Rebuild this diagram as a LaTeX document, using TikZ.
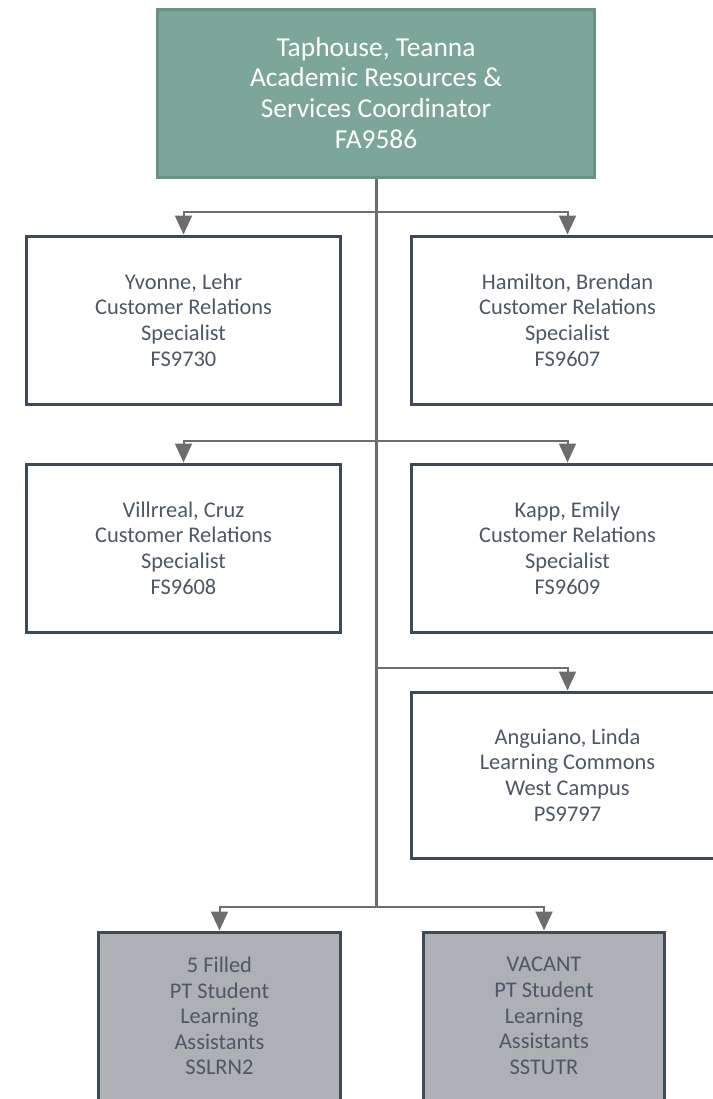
\documentclass[tikz,border=0pt]{standalone}
\usepackage{fontspec}
\setmainfont{Carlito}
\usetikzlibrary{arrows.meta}
\usetikzlibrary{positioning}

\definecolor{headfill}{HTML}{7BA699}
\definecolor{headline}{HTML}{6A9185}
\definecolor{boxline}{HTML}{3E4A57}
\definecolor{boxtext}{HTML}{4D5866}
\definecolor{linkgray}{HTML}{6D6D6D}
\definecolor{studentfill}{HTML}{ADB0B5}

\begin{document}
\begin{tikzpicture}[x=1bp,y=-1bp,
  headbox/.style={rectangle,draw=headline,fill=headfill,line width=3bp,minimum width=436bp,minimum height=168bp,align=center,text=white,font=\fontsize{27.5}{31}\selectfont},
  staffbox/.style={rectangle,draw=boxline,fill=white,line width=3bp,minimum width=313bp,minimum height=168bp,align=center,text=boxtext,font=\fontsize{22.5}{25.7}\selectfont},
  studentbox/.style={staffbox,fill=studentfill,minimum width=241bp},
  trunk/.style={draw=linkgray,line width=3bp},
  branch/.style={draw=linkgray,line width=2bp,-{Triangle[width=17bp,length=19bp]}}]
\useasboundingbox (0,0) rectangle (713,1099);

\node[headbox] (head) at (376,93) {Taphouse, Teanna\\Academic Resources \&\\Services Coordinator\\FA9586};

\node[staffbox] (yvonne) at (183.5,320) {Yvonne, Lehr\\Customer Relations\\Specialist\\FS9730};
\node[staffbox] (hamilton) at (567.5,320) {Hamilton, Brendan\\Customer Relations\\Specialist\\FS9607};
\node[staffbox] (villrreal) at (183.5,548) {Villrreal, Cruz\\Customer Relations\\Specialist\\FS9608};
\node[staffbox] (kapp) at (567.5,548) {Kapp, Emily\\Customer Relations\\Specialist\\FS9609};
\node[staffbox,minimum height=166bp] (anguiano) at (567.5,775) {Anguiano, Linda\\Learning Commons\\West Campus\\PS9797};

\node[studentbox] (filled) at (219.5,1016) {5 Filled\\PT Student\\Learning\\Assistants\\SSLRN2};
\node[studentbox] (vacant) at (544,1016) {VACANT\\PT Student\\Learning\\Assistants\\SSTUTR};

\coordinate (j1) at (376,212);
\coordinate (j2) at (376,441);
\coordinate (j3) at (376,668);
\coordinate (j4) at (376,907);

\draw[trunk] (head.south) -- (j4);
\draw[branch] (j1) -| (yvonne.north);
\draw[branch] (j1) -| (hamilton.north);
\draw[branch] (j2) -| (villrreal.north);
\draw[branch] (j2) -| (kapp.north);
\draw[branch] (j3) -| (anguiano.north);
\draw[branch] (j4) -| (filled.north);
\draw[branch] (j4) -| (vacant.north);

\end{tikzpicture}
\end{document}
